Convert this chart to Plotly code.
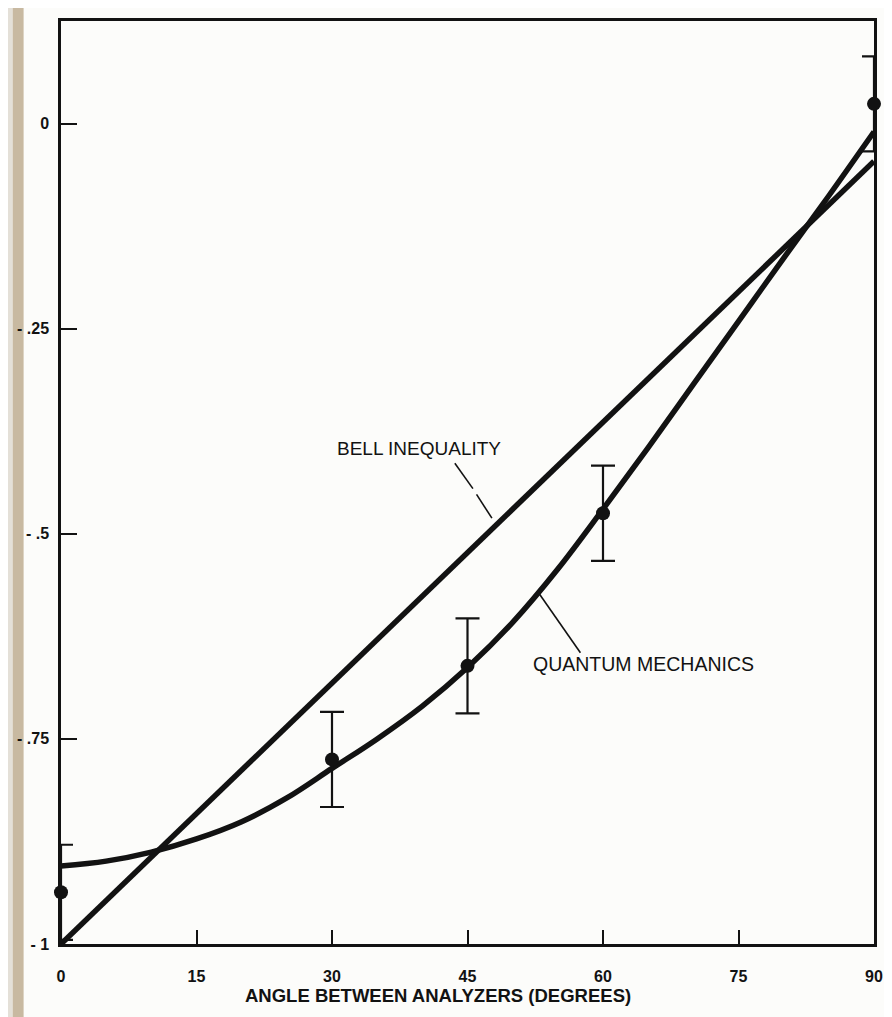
import plotly.graph_objects as go

# ---- data ----
x_ticks = [0, 15, 30, 45, 60, 75, 90]
x_tick_labels = ["0", "15", "30", "45", "60", "75", "90"]
y_ticks = [0, -0.25, -0.5, -0.75, -1]
y_tick_labels = ["0", "- .25", "- .5", "- .75", "- 1"]

bell_x = [0, 90]
bell_y = [-1.0, -0.046]

qm_x = [0, 5, 10, 15, 20, 25, 30, 35, 40, 45, 50, 55, 60, 65, 70, 75, 80, 85, 90]
qm_y = [-0.905, -0.899, -0.888, -0.872, -0.851, -0.822, -0.786, -0.750, -0.710,
        -0.663, -0.608, -0.543, -0.470, -0.395, -0.318, -0.241, -0.164, -0.088, -0.010]

meas_x = [0, 30, 45, 60, 90]
meas_y = [-0.937, -0.775, -0.661, -0.475, 0.024]
meas_err = [0.058, 0.058, 0.058, 0.058, 0.058]

bell_label = "BELL INEQUALITY"
qm_label = "QUANTUM MECHANICS"
x_title = "ANGLE BETWEEN ANALYZERS (DEGREES)"

INK = "#121212"
BG = "#fcfcfa"
FONT = "Liberation Sans, Arial, sans-serif"

fig = go.Figure()

fig.add_trace(go.Scatter(x=bell_x, y=bell_y, mode="lines",
                         line=dict(color=INK, width=5.5), hoverinfo="skip"))
fig.add_trace(go.Scatter(x=qm_x, y=qm_y, mode="lines",
                         line=dict(color=INK, width=5.5, shape="spline", smoothing=1.0),
                         hoverinfo="skip"))
fig.add_trace(go.Scatter(x=meas_x, y=meas_y, mode="markers",
                         marker=dict(color=INK, size=14),
                         error_y=dict(type="data", array=meas_err, symmetric=True,
                                      color=INK, thickness=2.2, width=12),
                         cliponaxis=False, hoverinfo="skip"))

# label leader lines
shapes = [
    dict(type="line", xref="x", yref="y", x0=43.6, y0=-0.414, x1=45.6, y1=-0.445,
         line=dict(color=INK, width=1.6)),
    dict(type="line", xref="x", yref="y", x0=46.0, y0=-0.452, x1=47.7, y1=-0.481,
         line=dict(color=INK, width=1.6)),
    dict(type="line", xref="x", yref="y", x0=53.0, y0=-0.574, x1=57.5, y1=-0.645,
         line=dict(color=INK, width=1.6)),
    # book gutter strip at the left edge of the scan
    dict(type="rect", xref="paper", yref="paper", x0=-0.08, x1=-0.0594, y0=-0.1, y1=1.05,
         fillcolor="#e4e0d8", line=dict(width=0), layer="below"),
    dict(type="rect", xref="paper", yref="paper", x0=-0.0594, x1=-0.046, y0=-0.1, y1=1.05,
         fillcolor="#c8b9a1", line=dict(width=0), layer="below"),
]

annotations = [
    dict(x=39.6, y=-0.396, xref="x", yref="y", text=bell_label, showarrow=False,
         font=dict(family=FONT, size=19, color=INK)),
    dict(x=64.5, y=-0.659, xref="x", yref="y", text=qm_label, showarrow=False,
         font=dict(family=FONT, size=19.5, color=INK)),
    dict(x=0.4636, y=-0.0563, xref="paper", yref="paper", text=x_title,
         showarrow=False, xanchor="center", yanchor="middle",
         font=dict(family=FONT, size=18.5, color=INK, weight="bold")),
]

fig.update_layout(
    width=884, height=1009,
    margin=dict(l=50, r=9, t=13, b=73),
    paper_bgcolor=BG, plot_bgcolor=BG,
    showlegend=False,
    shapes=shapes, annotations=annotations,
    font=dict(family=FONT, color=INK),
)

fig.update_xaxes(range=[0, 90], tickvals=x_ticks, ticktext=x_tick_labels,
                 ticks="inside", ticklen=14, tickwidth=2.2, tickcolor=INK,
                 showline=True, linewidth=2.5, linecolor=INK, mirror=True,
                 showgrid=False, zeroline=False,
                 tickfont=dict(family=FONT, size=16, color=INK, weight="bold"),
                 ticklabelstandoff=16)
fig.update_yaxes(range=[-1, 0.125], tickvals=y_ticks, ticktext=y_tick_labels,
                 ticks="inside", ticklen=16, tickwidth=2.2, tickcolor=INK,
                 showline=True, linewidth=2.5, linecolor=INK, mirror=True,
                 showgrid=False, zeroline=False,
                 tickfont=dict(family=FONT, size=16, color=INK, weight="bold"),
                 ticklabelstandoff=6)

fig.write_html("out.html")
